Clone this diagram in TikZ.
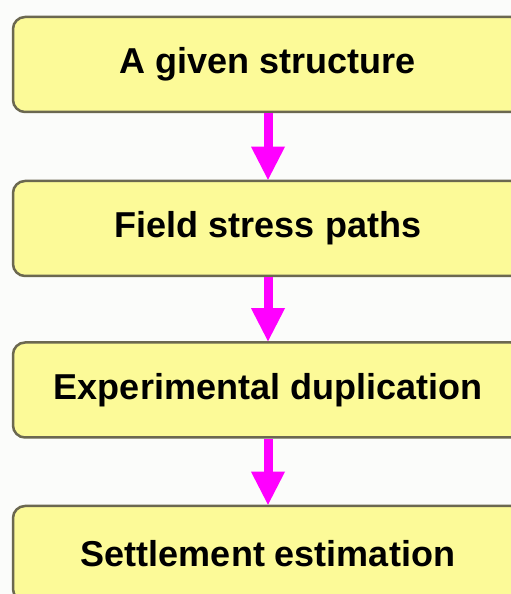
\documentclass[tikz,border=0pt]{standalone}
\usepackage{fontspec}
\setmainfont{Liberation Sans}
\usetikzlibrary{arrows.meta}

\definecolor{boxfill}{RGB}{252,250,152}
\definecolor{boxline}{RGB}{107,104,80}
\definecolor{flowpink}{RGB}{255,0,255}
\definecolor{paper}{RGB}{251,252,250}

\begin{document}
\begin{tikzpicture}[>=stealth, x=1pt, y=1pt,
	]

	\tikzset{step box/.style={
				rectangle,
				rounded corners=12pt,
				draw=boxline,
				line width=2.5pt,
				fill=boxfill,
				minimum width=510pt,
				minimum height=95pt,
				font=\fontsize{36}{40}\selectfont\bfseries}
	}
	\tikzset{flow arrow/.style={
				draw=flowpink,
				line width=9pt,
				-{Triangle[width=34pt,length=33pt,line width=0pt]}}
	}

	\useasboundingbox (0,0) rectangle (511,594);
	\clip (0,0) rectangle (511,594);
	\fill[paper] (0,0) rectangle (511,594);

	\node[step box] (n1) at (268,529.5) {A given structure};

	\node[step box] (n2) at (268,365.5) {Field stress paths};
	\draw[flow arrow] (n1) -- (n2);

	\node[step box] (n3) at (268,204) {Experimental duplication};
	\draw[flow arrow] (n2) -- (n3);

	\node[step box] (n4) at (268,40.5) {Settlement estimation};
	\draw[flow arrow] (n3) -- (n4);

\end{tikzpicture}
\end{document}
